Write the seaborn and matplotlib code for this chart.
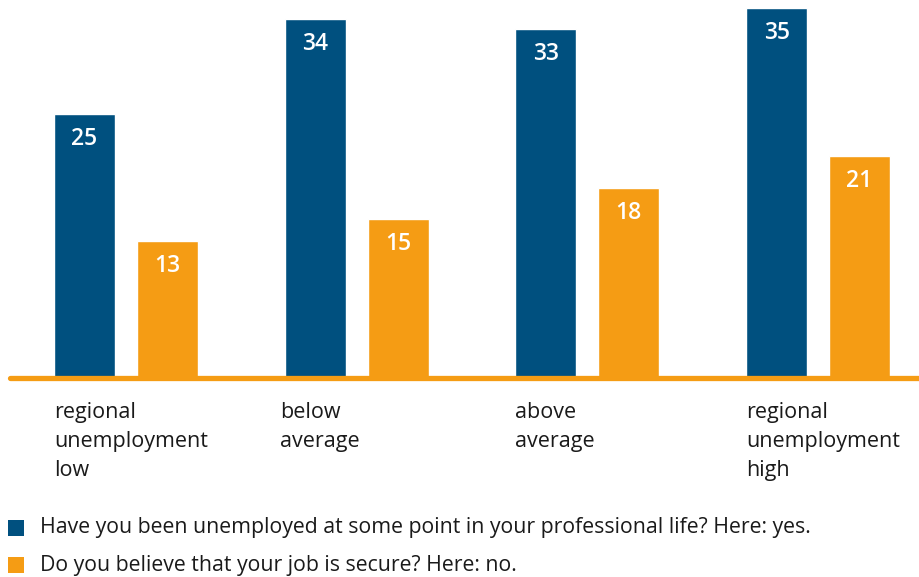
import matplotlib
matplotlib.use("Agg")
import matplotlib.pyplot as plt
import seaborn as sns
import pandas as pd
from matplotlib.patches import Rectangle

# --- data ---------------------------------------------------------------
categories = [
    "regional\nunemployment\nlow",
    "below\naverage",
    "above\naverage",
    "regional\nunemployment\nhigh",
]
series = [
    "Have you been unemployed at some point in your professional life? Here: yes.",
    "Do you believe that your job is secure? Here: no.",
]
unemployed_yes = [25, 34, 33, 35]
job_insecure = [13, 15, 18, 21]
colors = ["#00507f", "#f59c14"]

df = pd.DataFrame({
    "category": categories * 2,
    "series": [series[0]] * len(categories) + [series[1]] * len(categories),
    "value": unemployed_yes + job_insecure,
})

# --- figure ------------------------------------------------------------
sns.set_theme(style="white")
plt.rcParams["font.family"] = ["Open Sans", "DejaVu Sans"]
TEXT = "#1a1a1a"

W, H = 919, 577
fig = plt.figure(figsize=(W / 100, H / 100), dpi=100)
fig.patch.set_facecolor("white")

base_px = 378          # baseline position from the top, pixels
px_per_unit = 10.57    # vertical scale
group_px = 230.67      # distance between category groups
first_px = 126         # centre of first group

ax = fig.add_axes([0, (H - base_px) / H, 1, base_px / H])
sns.barplot(
    data=df, x="category", y="value", hue="series",
    order=categories, hue_order=series, palette=colors,
    width=0.7186, gap=0.265, saturation=1, errorbar=None,
    legend=False, ax=ax,
)
ax.set_xlim(-first_px / group_px, (W - first_px) / group_px)
ax.set_ylim(0, base_px / px_per_unit)
ax.axis("off")

# baseline
ax.axhline(0, xmin=10 / W, xmax=1, color=colors[1], lw=3.8, clip_on=False, zorder=3)

# value labels inside the bar tops
for container in ax.containers:
    for bar in container:
        h = bar.get_height()
        ax.annotate(
            f"{h:.0f}", xy=(bar.get_x() + bar.get_width() / 2, h),
            xytext=(0, -25), textcoords="offset pixels",
            ha="center", va="center", color="white",
            fontsize=16.5, fontweight="semibold",
        )

# category labels, left aligned under each group
label_offset = -0.312
label_nudge_px = [0, -5, 0, 0]
for i, cat in enumerate(categories):
    ax.annotate(
        cat, xy=(i + label_offset, 0), xytext=(label_nudge_px[i], -24),
        textcoords="offset pixels", ha="left", va="top",
        fontsize=15.5, color=TEXT, linespacing=1.5, annotation_clip=False,
    )

# legend below the chart
for k, (name, col) in enumerate(zip(series, colors)):
    top = 520 + k * 37
    fig.add_artist(Rectangle((8 / W, 1 - (top + 16) / H), 16 / W, 16 / H,
                             transform=fig.transFigure, color=col, lw=0))
    fig.text(40 / W, 1 - (top + 8) / H, name, ha="left", va="center",
             fontsize=15.3, color=TEXT)

fig.savefig("out.png", dpi=100, facecolor="white")
